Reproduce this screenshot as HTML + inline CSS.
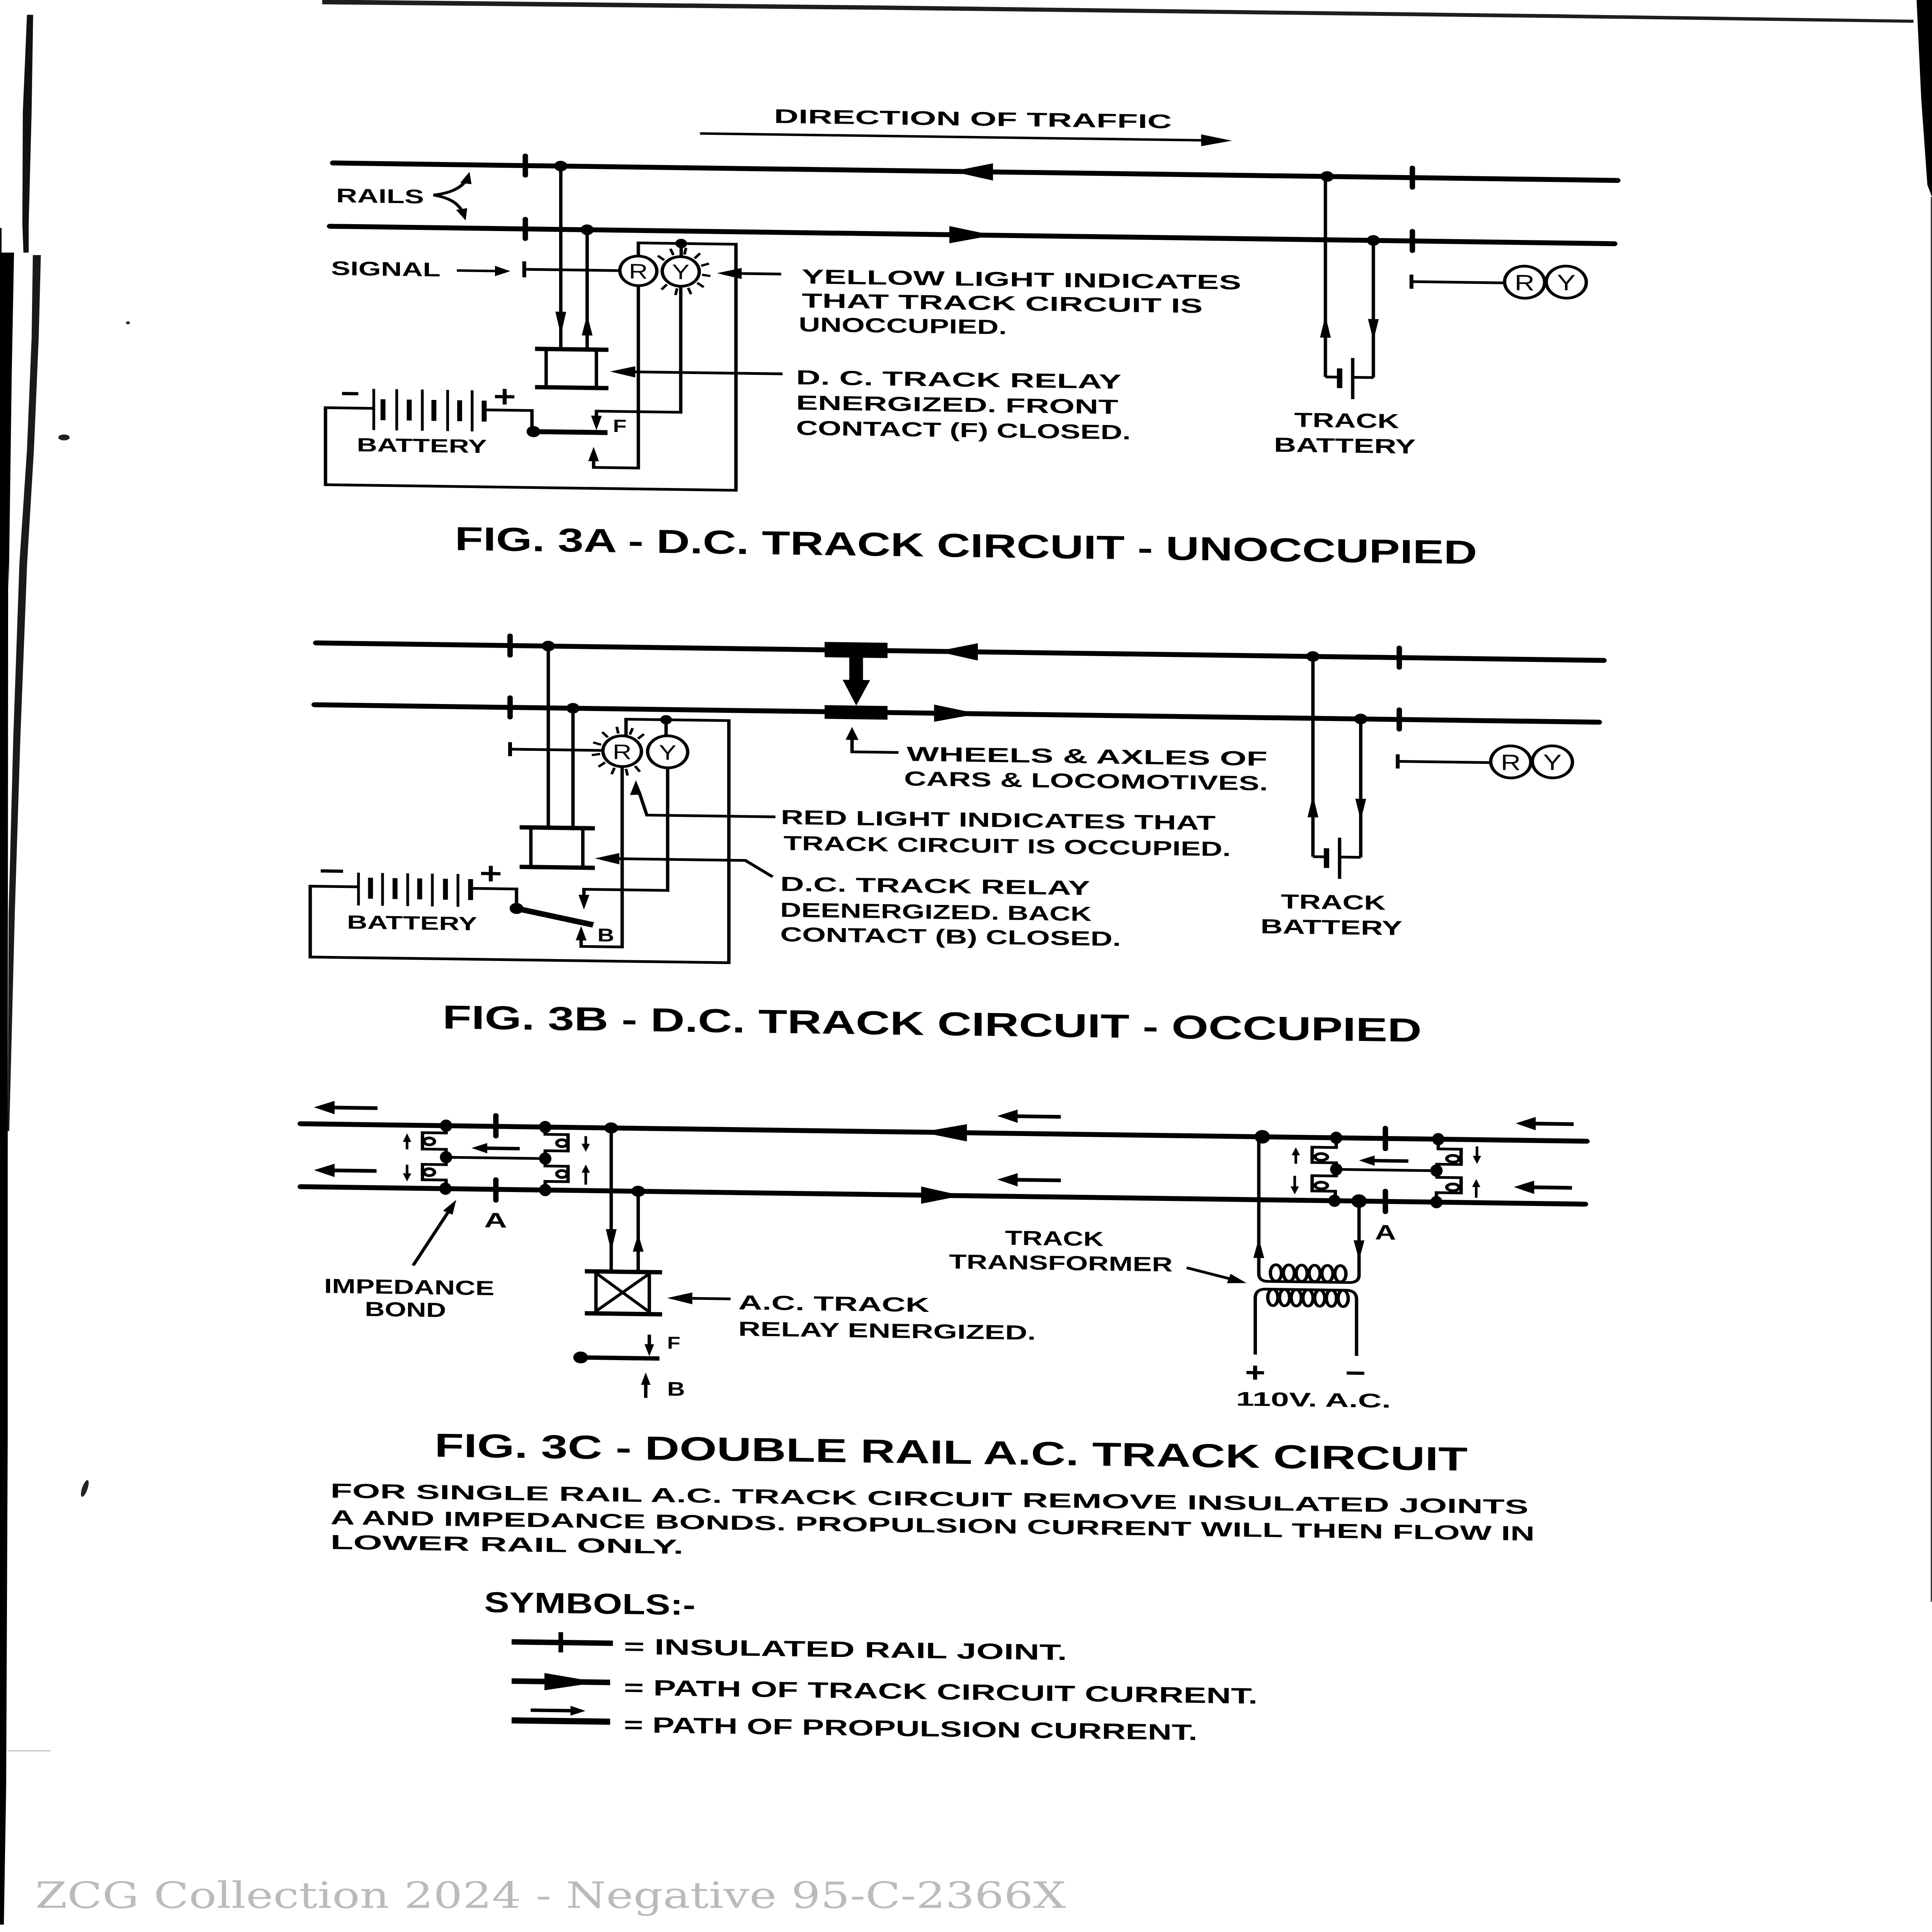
<!DOCTYPE html>
<html>
<head>
<meta charset="utf-8">
<style>
html,body{margin:0;padding:0;background:#fff;overflow:hidden;width:100%;height:100%;}
svg{position:fixed;left:0;top:0;width:100vw;height:100vh;display:block;}
.w{stroke:#000;stroke-width:2.2;fill:none;stroke-linejoin:miter;}
.r{stroke:#000;stroke-width:4;fill:none;stroke-linecap:round;}
.j{stroke:#000;stroke-width:3.5;fill:none;stroke-linecap:round;}
.b{stroke:#000;stroke-width:3.5;fill:none;}
.f{fill:#000;stroke:none;}
.t{font-family:"Liberation Sans",sans-serif;font-weight:bold;fill:#000;}
.n{font-family:"Liberation Sans",sans-serif;font-weight:normal;fill:#000;}
.c{stroke:#000;stroke-width:2.2;fill:#fff;}
</style>
</head>
<body>
<svg xmlns="http://www.w3.org/2000/svg" viewBox="0 0 1253 1568" preserveAspectRatio="none">
<rect x="0" y="0" width="1253" height="1568" fill="#fff"/>

<!-- page edge artifacts -->
<polygon points="17.5,12 21.5,12 20.5,91 18.6,182 18.6,205 15.2,205 14.5,182 14.8,91" fill="#111"/>
<polygon points="0,205 9.1,205 7.6,304 5.7,477 5.3,457 5,953 5,1166 4,1450 2.5,1562 0,1562" fill="#000"/>
<polygon points="0,185 1,185 1,205 0,205" fill="#000"/>
<polygon points="21.3,207 26.5,207 25.1,274 22,365 17.6,457 13.2,599 9.6,741 6,918 5,918 5.6,741 8.6,599 12.6,457 17.5,365 20.5,274" fill="#1a1a1a"/>
<polygon points="209,0 232,0 575,4.5 1005,11.5 1241,16 1241,18.5 1005,14.5 575,8 209,3.5" fill="#1e1e1e"/>
<polygon points="1243,0 1253,0 1253,160 1250,150 1246,80" fill="#000"/>
<rect x="1252.2" y="160" width="0.8" height="1140" fill="#333"/>
<line x1="5" y1="1421" x2="33" y2="1421" stroke="#888" stroke-width="0.5"/>
<ellipse cx="41.5" cy="355" rx="3.7" ry="2.4" fill="#222"/>
<ellipse cx="55" cy="1208" rx="1.8" ry="7" transform="rotate(15 55 1208)" fill="#222"/>
<circle cx="83" cy="262" r="1.3" fill="#333"/>

<g transform="translate(600 0) skewY(0.974) translate(-600 0)">

<!-- ===================== FIG 3A ===================== -->
<text class="t" x="502" y="101.4" font-size="16" textLength="258" lengthAdjust="spacingAndGlyphs">DIRECTION OF TRAFFIC</text>
<line x1="454" y1="110.8" x2="781" y2="110.8" stroke="#000" stroke-width="2"/>
<polygon class="f" points="799,110.8 779,106 779,115.6"/>

<line class="r" x1="216" y1="138.8" x2="1049" y2="138.8"/>
<line class="r" x1="214" y1="190.2" x2="1047" y2="190.2"/>
<line class="j" x1="340.7" y1="130.8" x2="340.7" y2="146.8"/>
<line class="j" x1="340.7" y1="182.2" x2="340.7" y2="198.2"/>
<line class="j" x1="916" y1="130.8" x2="916" y2="146.8"/>
<line class="j" x1="916" y1="182.2" x2="916" y2="198.2"/>
<polygon class="f" points="617.5,138.8 644,131.8 644,145.8"/>
<polygon class="f" points="644,190.2 615.7,183.2 615.7,197.2"/>
<circle class="f" cx="363.7" cy="138.8" r="4.3"/>
<circle class="f" cx="380.8" cy="190.2" r="4.3"/>
<circle class="f" cx="860.7" cy="138.8" r="4.3"/>
<circle class="f" cx="890.7" cy="190.2" r="4.3"/>

<text class="t" x="218" y="170.6" font-size="16" textLength="57" lengthAdjust="spacingAndGlyphs">RAILS</text>
<path class="w" d="M281,163.7 C293,162 299,157 302,152"/>
<polygon class="f" points="304.5,144.5 298.5,153.5 305.8,154.5"/>
<path class="w" d="M281,163.7 C293,166 297,171 299.5,176"/>
<polygon class="f" points="302,184 295.8,175.5 303,174"/>

<text class="t" x="214.7" y="229.7" font-size="16" textLength="71" lengthAdjust="spacingAndGlyphs">SIGNAL</text>
<line x1="296.3" y1="224.7" x2="322" y2="224.7" stroke="#000" stroke-width="2"/>
<polygon class="f" points="331,224.7 321,220.5 321,228.9"/>

<!-- relay wires -->
<line class="w" x1="363.7" y1="138.8" x2="363.7" y2="287.4"/>
<polygon class="f" points="360.2,257 367.2,257 363.7,276"/>
<line class="w" x1="380.8" y1="190.2" x2="380.8" y2="287.4"/>
<polygon class="f" points="377.3,276 384.3,276 380.8,259"/>
<!-- relay -->
<line class="b" x1="347" y1="287.4" x2="394.6" y2="287.4"/>
<line class="b" x1="347" y1="318.5" x2="394.6" y2="318.5"/>
<line class="w" x1="354.2" y1="289" x2="354.2" y2="317"/>
<line class="w" x1="386.8" y1="289" x2="386.8" y2="317"/>
<line class="w" x1="411" y1="305" x2="507.5" y2="305"/>
<polygon class="f" points="395.7,305 412,300.4 412,309.6"/>

<!-- signal -->
<line class="w" x1="340" y1="223" x2="402" y2="223"/>
<line x1="340" y1="216.5" x2="340" y2="229.5" stroke="#000" stroke-width="2.5"/>
<polyline class="w" points="414,211 414,200.3 477.3,200.3 477.3,400 211.1,400 211.1,337.5 242.4,337.5"/>
<line class="w" x1="441.8" y1="200.3" x2="441.8" y2="211"/>
<circle class="f" cx="441.8" cy="200.3" r="3.8"/>
<g stroke="#000" stroke-width="1.8">
<line x1="430.8" y1="214" x2="426.6" y2="210.5"/>
<line x1="436.7" y1="209.8" x2="434.8" y2="204.7"/>
<line x1="443.9" y1="209.2" x2="444.9" y2="203.8"/>
<line x1="450.5" y1="212.3" x2="454" y2="208.1"/>
<line x1="454.7" y1="218.2" x2="459.8" y2="216.3"/>
<line x1="455.3" y1="225.4" x2="460.7" y2="226.4"/>
<line x1="452.2" y1="232" x2="456.4" y2="235.5"/>
<line x1="446.3" y1="236.2" x2="448.2" y2="241.3"/>
<line x1="439.1" y1="236.8" x2="438.1" y2="242.2"/>
<line x1="432.5" y1="233.7" x2="429" y2="237.9"/>
</g>
<circle class="c" cx="414" cy="223" r="12"/>
<circle class="c" cx="441.5" cy="223" r="12"/>
<text class="n" x="414" y="229.2" font-size="17" text-anchor="middle">R</text>
<text class="n" x="441.5" y="229.2" font-size="17" text-anchor="middle">Y</text>
<line class="w" x1="481" y1="224" x2="506.6" y2="224"/>
<polygon class="f" points="465,224 481,219.5 481,228.5"/>

<!-- lamp returns / contacts -->
<polyline class="w" points="441.5,235 441.5,337.3 386.8,337.3 386.8,342"/>
<polygon class="f" points="383.3,341 390.3,341 386.8,352.8"/>
<polyline class="w" points="414,235 414,383 385,383 385,377"/>
<polygon class="f" points="381.5,378 388.5,378 385,366.3"/>
<circle class="f" cx="346" cy="354.6" r="4.5"/>
<line x1="346" y1="354.6" x2="394" y2="354.6" stroke="#000" stroke-width="4"/>
<polyline class="w" points="314,337.5 345,337.5 345,354.6"/>
<text class="t" x="397.5" y="354" font-size="14.5">F</text>

<!-- battery -->
<g stroke="#000">
<line x1="242.4" y1="321.7" x2="242.4" y2="355.1" stroke-width="1.8"/>
<line x1="248.4" y1="330" x2="248.4" y2="347" stroke-width="3.2"/>
<line x1="257.3" y1="321.7" x2="257.3" y2="355.1" stroke-width="1.8"/>
<line x1="265.4" y1="330" x2="265.4" y2="347" stroke-width="3.2"/>
<line x1="273.9" y1="321.7" x2="273.9" y2="355.1" stroke-width="1.8"/>
<line x1="281.4" y1="330" x2="281.4" y2="347" stroke-width="3.2"/>
<line x1="290.3" y1="321.7" x2="290.3" y2="355.1" stroke-width="1.8"/>
<line x1="298.1" y1="330" x2="298.1" y2="347" stroke-width="3.2"/>
<line x1="306.2" y1="321.7" x2="306.2" y2="355.1" stroke-width="1.8"/>
<line x1="314" y1="330" x2="314" y2="347" stroke-width="3.2"/>
<line x1="221.8" y1="325.8" x2="232.4" y2="325.8" stroke-width="2.6"/>
<line x1="321" y1="326.6" x2="333.6" y2="326.6" stroke-width="2.6"/>
<line x1="327.3" y1="320.3" x2="327.3" y2="332.9" stroke-width="2.6"/>
</g>
<text class="t" x="231.4" y="372.5" font-size="15.5" textLength="84.4" lengthAdjust="spacingAndGlyphs">BATTERY</text>

<!-- labels -->
<text class="t" x="520" y="231.4" font-size="16.5" textLength="285" lengthAdjust="spacingAndGlyphs">YELLOW LIGHT INDICATES</text>
<text class="t" x="520" y="250.9" font-size="16.5" textLength="260" lengthAdjust="spacingAndGlyphs">THAT TRACK CIRCUIT IS</text>
<text class="t" x="518" y="270.3" font-size="16.5" textLength="135" lengthAdjust="spacingAndGlyphs">UNOCCUPIED.</text>
<text class="t" x="516.3" y="313.3" font-size="16.5" textLength="211" lengthAdjust="spacingAndGlyphs">D. C. TRACK RELAY</text>
<text class="t" x="516.3" y="333.8" font-size="16.5" textLength="209" lengthAdjust="spacingAndGlyphs">ENERGIZED. FRONT</text>
<text class="t" x="516.3" y="354.3" font-size="16.5" textLength="217" lengthAdjust="spacingAndGlyphs">CONTACT (F) CLOSED.</text>

<!-- right part 3A -->
<line class="w" x1="859.6" y1="138.8" x2="859.6" y2="301.5"/>
<polygon class="f" points="856.1,269.6 863.1,269.6 859.6,251.6"/>
<line class="w" x1="890.7" y1="190.2" x2="890.7" y2="301.5"/>
<polygon class="f" points="887.2,254 894.2,254 890.7,271.5"/>
<line class="w" x1="859.6" y1="301.5" x2="868.8" y2="301.5"/>
<line class="w" x1="877.3" y1="301.5" x2="890.7" y2="301.5"/>
<line x1="868.8" y1="294.4" x2="868.8" y2="310.4" stroke="#000" stroke-width="3.5"/>
<line x1="877.3" y1="285.8" x2="877.3" y2="319.2" stroke="#000" stroke-width="2.2"/>
<line x1="915.4" y1="217.5" x2="915.4" y2="229" stroke="#000" stroke-width="2.5"/>
<line class="w" x1="915.4" y1="223.2" x2="975.8" y2="223.2"/>
<circle class="c" cx="988.8" cy="222.4" r="13"/>
<circle class="c" cx="1015.8" cy="221.9" r="13"/>
<text class="n" x="988.8" y="229" font-size="18" text-anchor="middle">R</text>
<text class="n" x="1015.8" y="228.5" font-size="18" text-anchor="middle">Y</text>
<text class="t" x="839.4" y="342.3" font-size="16.5" textLength="68" lengthAdjust="spacingAndGlyphs">TRACK</text>
<text class="t" x="826.2" y="362.7" font-size="16.5" textLength="92" lengthAdjust="spacingAndGlyphs">BATTERY</text>

<text class="t" x="295" y="451.6" font-size="27" textLength="663" lengthAdjust="spacingAndGlyphs">FIG. 3A - D.C. TRACK CIRCUIT - UNOCCUPIED</text>

<!-- ===================== FIG 3B ===================== -->
<line class="r" x1="205" y1="528.5" x2="1040" y2="528.5"/>
<line class="r" x1="204" y1="578.7" x2="1037" y2="578.7"/>
<line class="j" x1="330.8" y1="520.5" x2="330.8" y2="536.5"/>
<line class="j" x1="330.8" y1="570.7" x2="330.8" y2="586.7"/>
<line class="j" x1="907.5" y1="520.5" x2="907.5" y2="536.5"/>
<line class="j" x1="907.5" y1="570.7" x2="907.5" y2="586.7"/>
<polygon class="f" points="607.6,528.5 634.2,521.5 634.2,535.5"/>
<polygon class="f" points="634.2,578.7 605.8,571.7 605.8,585.7"/>
<circle class="f" cx="355.6" cy="528.5" r="4.3"/>
<circle class="f" cx="371.6" cy="578.7" r="4.3"/>
<circle class="f" cx="851.5" cy="528.5" r="4.3"/>
<circle class="f" cx="882.5" cy="578.7" r="4.3"/>

<!-- wheels & axle -->
<rect class="f" x="534.8" y="522.1" width="40.8" height="12.4"/>
<rect class="f" x="534.8" y="573.4" width="40.8" height="11.1"/>
<rect class="f" x="550.8" y="534.5" width="8.9" height="18.5"/>
<polygon class="f" points="546.5,552.6 564.3,552.6 555.3,573.4"/>
<polyline class="w" points="552.6,600 552.6,611 582.7,611"/>
<polygon class="f" points="548.4,601.3 556.8,601.3 552.6,590.8"/>
<text class="t" x="588" y="617.7" font-size="16.5" textLength="234" lengthAdjust="spacingAndGlyphs">WHEELS &amp; AXLES OF</text>
<text class="t" x="586.3" y="637.7" font-size="16.5" textLength="236" lengthAdjust="spacingAndGlyphs">CARS &amp; LOCOMOTIVES.</text>

<!-- relay wires -->
<line class="w" x1="355.6" y1="528.5" x2="355.6" y2="675.9"/>
<line class="w" x1="371.6" y1="578.7" x2="371.6" y2="675.9"/>
<line class="b" x1="337" y1="675.9" x2="385.8" y2="675.9"/>
<line class="b" x1="337" y1="708" x2="385.8" y2="708"/>
<line class="w" x1="344.3" y1="677.5" x2="344.3" y2="706.3"/>
<line class="w" x1="378" y1="677.5" x2="378" y2="706.3"/>

<!-- signal -->
<line x1="330.8" y1="606.9" x2="330.8" y2="618.3" stroke="#000" stroke-width="2.5"/>
<line class="w" x1="330.8" y1="612.6" x2="391" y2="612.6"/>
<polyline class="w" points="406,600.5 406,587 472.7,587 472.7,783.5 201.2,783.5 201.2,726 232.5,726"/>
<line class="w" x1="432" y1="587" x2="432" y2="600"/>
<circle class="f" cx="432" cy="587" r="3.8"/>
<g stroke="#000" stroke-width="1.8">
<line x1="389.9" y1="608" x2="384.7" y2="606.2"/>
<line x1="394.2" y1="601.9" x2="390.6" y2="597.7"/>
<line x1="401" y1="598.7" x2="400" y2="593.3"/>
<line x1="408.5" y1="599.4" x2="410.3" y2="594.2"/>
<line x1="413.8" y1="602.7" x2="417.6" y2="598.9"/>
<line x1="389.2" y1="615.5" x2="383.8" y2="616.5"/>
<line x1="392.4" y1="622.3" x2="388.2" y2="625.9"/>
<line x1="398.5" y1="626.6" x2="396.7" y2="631.8"/>
<line x1="406" y1="627.3" x2="407" y2="632.7"/>
<line x1="411.8" y1="624.9" x2="415" y2="629.4"/>
</g>
<circle class="c" cx="403.5" cy="613" r="12.5"/>
<circle class="c" cx="433" cy="613" r="13"/>
<text class="n" x="403.5" y="619.4" font-size="17" text-anchor="middle">R</text>
<text class="n" x="433" y="619.4" font-size="17" text-anchor="middle">Y</text>

<!-- lamp returns / contacts -->
<polyline class="w" points="433,626 433,725.5 378.7,725.5 378.7,731"/>
<polygon class="f" points="375.2,730 382.2,730 378.7,742"/>
<polyline class="w" points="403.5,625.5 403.5,771.9 376.9,771.9 376.9,766"/>
<polygon class="f" points="373.4,767 380.4,767 376.9,755.4"/>
<circle class="f" cx="335" cy="741.8" r="4.5"/>
<line x1="335" y1="741.8" x2="384.7" y2="754.3" stroke="#000" stroke-width="4.5"/>
<polyline class="w" points="305.2,726 335,726 335,741.8"/>
<text class="t" x="387.5" y="767.6" font-size="15">B</text>

<!-- battery -->
<g stroke="#000">
<line x1="232.5" y1="714.5" x2="232.5" y2="741.1" stroke-width="1.8"/>
<line x1="240.3" y1="718.5" x2="240.3" y2="735.5" stroke-width="3.2"/>
<line x1="248.1" y1="714.5" x2="248.1" y2="741.1" stroke-width="1.8"/>
<line x1="256.2" y1="718.5" x2="256.2" y2="735.5" stroke-width="3.2"/>
<line x1="264.4" y1="714.5" x2="264.4" y2="741.1" stroke-width="1.8"/>
<line x1="272.2" y1="718.5" x2="272.2" y2="735.5" stroke-width="3.2"/>
<line x1="280.4" y1="714.5" x2="280.4" y2="741.1" stroke-width="1.8"/>
<line x1="288.9" y1="718.5" x2="288.9" y2="735.5" stroke-width="3.2"/>
<line x1="297" y1="714.5" x2="297" y2="741.1" stroke-width="1.8"/>
<line x1="305.2" y1="718.5" x2="305.2" y2="735.5" stroke-width="3.2"/>
<line x1="208" y1="713.5" x2="222.5" y2="713.5" stroke-width="2.6"/>
<line x1="312" y1="713.8" x2="324.6" y2="713.8" stroke-width="2.6"/>
<line x1="318.3" y1="707.5" x2="318.3" y2="720.1" stroke-width="2.6"/>
</g>
<text class="t" x="225" y="760" font-size="15.5" textLength="84.5" lengthAdjust="spacingAndGlyphs">BATTERY</text>

<!-- indicator arrows -->
<polyline class="w" points="502.9,664.6 419.5,664.6 414.8,647"/>
<polygon class="f" points="412.4,636.4 408.6,648.5 416.3,648"/>
<polyline class="w" points="501.1,713.3 483.4,700.3 401,700.3"/>
<polygon class="f" points="385.8,700.3 401.7,695.7 401.7,704.9"/>

<text class="t" x="506.4" y="670.4" font-size="16.5" textLength="282" lengthAdjust="spacingAndGlyphs">RED LIGHT INDICATES THAT</text>
<text class="t" x="508.2" y="691.4" font-size="16.5" textLength="290" lengthAdjust="spacingAndGlyphs">TRACK CIRCUIT IS OCCUPIED.</text>
<text class="t" x="506" y="724.6" font-size="16.5" textLength="201" lengthAdjust="spacingAndGlyphs">D.C. TRACK RELAY</text>
<text class="t" x="506" y="745.6" font-size="16.5" textLength="202" lengthAdjust="spacingAndGlyphs">DEENERGIZED. BACK</text>
<text class="t" x="506" y="765.5" font-size="16.5" textLength="221" lengthAdjust="spacingAndGlyphs">CONTACT (B) CLOSED.</text>

<!-- right part 3B -->
<line class="w" x1="851.5" y1="528.5" x2="851.5" y2="691"/>
<polygon class="f" points="848,659.1 855,659.1 851.5,641.1"/>
<line class="w" x1="882.5" y1="578.7" x2="882.5" y2="691"/>
<polygon class="f" points="879,643.5 886,643.5 882.5,661"/>
<line class="w" x1="851.5" y1="691" x2="860.3" y2="691"/>
<line class="w" x1="868.8" y1="691" x2="882.5" y2="691"/>
<line x1="860.3" y1="684" x2="860.3" y2="700" stroke="#000" stroke-width="3.5"/>
<line x1="868.8" y1="675.3" x2="868.8" y2="708.7" stroke="#000" stroke-width="2.2"/>
<line x1="906.5" y1="607" x2="906.5" y2="618.5" stroke="#000" stroke-width="2.5"/>
<line class="w" x1="906.5" y1="612.7" x2="966.8" y2="612.7"/>
<circle class="c" cx="979.8" cy="611.9" r="13"/>
<circle class="c" cx="1006.8" cy="611.4" r="13"/>
<text class="n" x="979.8" y="618.5" font-size="18" text-anchor="middle">R</text>
<text class="n" x="1006.8" y="618" font-size="18" text-anchor="middle">Y</text>
<text class="t" x="830.7" y="733.3" font-size="16.5" textLength="68" lengthAdjust="spacingAndGlyphs">TRACK</text>
<text class="t" x="817.5" y="753.7" font-size="16.5" textLength="92" lengthAdjust="spacingAndGlyphs">BATTERY</text>

<text class="t" x="287" y="840" font-size="27" textLength="635" lengthAdjust="spacingAndGlyphs">FIG. 3B - D.C. TRACK CIRCUIT - OCCUPIED</text>

<!-- ===================== FIG 3C ===================== -->
<line class="r" x1="195" y1="918.9" x2="1029" y2="918.9"/>
<line class="r" x1="195" y1="970" x2="1028" y2="970"/>
<polygon class="f" points="597.4,918.9 627.1,911.9 627.1,925.9"/>
<polygon class="f" points="623.8,970 597.4,963 597.4,977"/>

<!-- propulsion arrows -->
<g stroke="#000" stroke-width="3">
<line x1="215" y1="905.4" x2="244.8" y2="905.4"/>
<line x1="215" y1="956.4" x2="244.2" y2="956.4"/>
<line x1="658" y1="904.9" x2="688" y2="904.9"/>
<line x1="658" y1="956.5" x2="688" y2="956.5"/>
<line x1="994" y1="905.2" x2="1020.6" y2="905.2"/>
<line x1="994" y1="956.9" x2="1019.5" y2="956.9"/>
</g>
<polygon class="f" points="203.6,905.4 217,900 217,910.8"/>
<polygon class="f" points="203.6,956.4 217,951 217,961.8"/>
<polygon class="f" points="646.8,904.9 660,899.5 660,910.3"/>
<polygon class="f" points="646.8,956.5 660,951.1 660,961.9"/>
<polygon class="f" points="983,905.2 996,899.8 996,910.6"/>
<polygon class="f" points="981.8,956.9 995,951.5 995,962.3"/>

<!-- left impedance bonds -->
<line class="j" x1="321.6" y1="909.9" x2="321.6" y2="926.9"/>
<line class="j" x1="321.6" y1="962" x2="321.6" y2="979"/>
<polyline class="w" points="289.3,918.9 289.3,924.8 274,924.8 274,938.1 289.3,938.1 289.3,944.5"/>
<polyline class="w" points="289.3,944.5 289.3,950.5 274,950.5 274,963 289.3,963 289.3,970"/>
<polyline class="w" points="353.6,918.9 353.6,924.8 368.4,924.8 368.4,938.1 353.6,938.1 353.6,944.5"/>
<polyline class="w" points="353.6,944.5 353.6,950.5 368.4,950.5 368.4,963 353.6,963 353.6,970"/>
<line class="w" x1="289.3" y1="944.5" x2="353.6" y2="944.5"/>
<g class="w" stroke-width="1.8">
<ellipse cx="278.4" cy="931.8" rx="3.4" ry="2.8"/>
<ellipse cx="278.4" cy="956.8" rx="3.4" ry="2.8"/>
<ellipse cx="364.5" cy="931.8" rx="3.4" ry="2.8"/>
<ellipse cx="364.5" cy="956.8" rx="3.4" ry="2.8"/>
</g>
<g class="f">
<ellipse cx="289.3" cy="918.9" rx="4" ry="5"/>
<ellipse cx="289.3" cy="944.5" rx="4" ry="5"/>
<ellipse cx="288.9" cy="970" rx="4" ry="5"/>
<ellipse cx="353.6" cy="918.9" rx="4" ry="5"/>
<ellipse cx="353.6" cy="944.5" rx="4" ry="5"/>
<ellipse cx="353.6" cy="970" rx="4" ry="5"/>
</g>
<g stroke="#000" stroke-width="1.7">
<line x1="264" y1="931" x2="264" y2="938.5"/>
<line x1="264" y1="951" x2="264" y2="959"/>
<line x1="379.9" y1="925.8" x2="379.9" y2="933"/>
<line x1="379.9" y1="954" x2="379.9" y2="965.2"/>
</g>
<polygon class="f" points="261.3,932.5 266.7,932.5 264,925.5"/>
<polygon class="f" points="261.3,958 266.7,958 264,964.5"/>
<polygon class="f" points="377.2,932 382.6,932 379.9,938.5"/>
<polygon class="f" points="377.2,955.5 382.6,955.5 379.9,948.8"/>
<line x1="315" y1="936.7" x2="337.1" y2="936.7" stroke="#000" stroke-width="2.8"/>
<polygon class="f" points="305.8,936.7 316,932.5 316,940.9"/>
<text class="t" x="314" y="1000.9" font-size="17" textLength="14.8" lengthAdjust="spacingAndGlyphs">A</text>
<line class="w" x1="267.9" y1="1032.7" x2="290.4" y2="989.5"/>
<polygon class="f" points="295.9,978.9 293.5,991.1 287.3,987.9"/>
<text class="t" x="210.2" y="1055.9" font-size="16.5" textLength="110.4" lengthAdjust="spacingAndGlyphs">IMPEDANCE</text>
<text class="t" x="236.6" y="1074.2" font-size="16.5" textLength="52.7" lengthAdjust="spacingAndGlyphs">BOND</text>

<!-- AC relay -->
<circle class="f" cx="396.4" cy="918.9" r="4.5"/>
<circle class="f" cx="413.9" cy="970" r="4.5"/>
<line class="w" x1="396.4" y1="918.9" x2="396.4" y2="1035.5"/>
<polygon class="f" points="392.9,1001 399.9,1001 396.4,1019"/>
<line class="w" x1="413.9" y1="970" x2="413.9" y2="1035.5"/>
<polygon class="f" points="410.4,1019 417.4,1019 413.9,1004.6"/>
<line class="b" x1="379.3" y1="1035.5" x2="429.4" y2="1035.5"/>
<line class="b" x1="379.3" y1="1069.6" x2="429.4" y2="1069.6"/>
<line class="w" x1="386.5" y1="1036.8" x2="386.5" y2="1067.8"/>
<line class="w" x1="421.1" y1="1036.8" x2="421.1" y2="1067.8"/>
<line class="w" x1="386.5" y1="1036.8" x2="421.1" y2="1067.8"/>
<line class="w" x1="421.1" y1="1036.8" x2="386.5" y2="1067.8"/>
<line class="w" x1="449" y1="1056.3" x2="473.8" y2="1056.3"/>
<polygon class="f" points="432.7,1056.3 449,1051.5 449,1061.1"/>
<text class="t" x="478.8" y="1064.7" font-size="16.5" textLength="124" lengthAdjust="spacingAndGlyphs">A.C. TRACK</text>
<text class="t" x="478.8" y="1086.1" font-size="16.5" textLength="193" lengthAdjust="spacingAndGlyphs">RELAY ENERGIZED.</text>
<circle class="f" cx="376.6" cy="1105.5" r="4.8"/>
<line x1="376.6" y1="1105.5" x2="427.7" y2="1105.5" stroke="#000" stroke-width="3.5"/>
<line class="w" x1="421.1" y1="1086.2" x2="421.1" y2="1095"/>
<polygon class="f" points="418,1094 424.2,1094 421.1,1103.7"/>
<line class="w" x1="418.8" y1="1137.6" x2="418.8" y2="1126"/>
<polygon class="f" points="415.7,1127 421.9,1127 418.8,1117"/>
<text class="t" x="432.7" y="1097.4" font-size="14">F</text>
<text class="t" x="432.7" y="1135.5" font-size="16">B</text>

<text class="t" x="651.8" y="1009.3" font-size="16.5" textLength="64" lengthAdjust="spacingAndGlyphs">TRACK</text>
<text class="t" x="615.5" y="1029.2" font-size="16.5" textLength="145" lengthAdjust="spacingAndGlyphs">TRANSFORMER</text>
<line class="w" x1="769.6" y1="1026" x2="797" y2="1034.3"/>
<polygon class="f" points="808.4,1037.75 795.7,1038.1 798.1,1030.5"/>

<!-- right impedance bonds -->
<line class="j" x1="898.5" y1="910.4" x2="898.5" y2="927.4"/>
<line class="j" x1="898.5" y1="961.5" x2="898.5" y2="978.5"/>
<polyline class="w" points="866.6,918.9 866.6,926.8 851,926.8 851,939.2 866.6,939.2 866.6,944.5"/>
<polyline class="w" points="866.6,944.5 866.6,949.9 851,949.9 851,962.3 866,962.3 866,970"/>
<polyline class="w" points="932.8,918.9 932.8,926.8 947.6,926.8 947.6,939.2 932,939.2 932,944.4"/>
<polyline class="w" points="932,944.4 932,949.9 947.6,949.9 947.6,962.3 931.6,962.3 931.6,970"/>
<line class="w" x1="866.6" y1="944.5" x2="931.6" y2="944.5"/>
<g class="w" stroke-width="1.8">
<ellipse cx="856.9" cy="934.6" rx="4" ry="2.7"/>
<ellipse cx="856.9" cy="957.8" rx="4" ry="2.7"/>
<ellipse cx="942.3" cy="934.6" rx="4" ry="2.7"/>
<ellipse cx="942.3" cy="957.8" rx="4" ry="2.7"/>
</g>
<g class="f">
<ellipse cx="818.7" cy="918.9" rx="5" ry="5.5"/>
<ellipse cx="866.6" cy="918.9" rx="4" ry="5"/>
<ellipse cx="932.8" cy="918.9" rx="4" ry="5"/>
<ellipse cx="865.5" cy="970" rx="4" ry="5"/>
<ellipse cx="881.4" cy="970" rx="5" ry="5.5"/>
<ellipse cx="931.6" cy="970" rx="4" ry="5"/>
<ellipse cx="866.6" cy="944.5" rx="4" ry="5"/>
<ellipse cx="931.6" cy="944.4" rx="4" ry="5"/>
</g>
<g stroke="#000" stroke-width="1.7">
<line x1="840.4" y1="932" x2="840.4" y2="940.4"/>
<line x1="839.7" y1="950.2" x2="839.7" y2="959.5"/>
<line x1="957.9" y1="924.3" x2="957.9" y2="932.5"/>
<line x1="957.4" y1="956" x2="957.4" y2="966"/>
</g>
<polygon class="f" points="837.7,933.5 843.1,933.5 840.4,927.1"/>
<polygon class="f" points="837,958.8 842.4,958.8 839.7,965.3"/>
<polygon class="f" points="955.2,932 960.6,932 957.9,938.5"/>
<polygon class="f" points="954.7,957.3 960.1,957.3 957.4,950.9"/>
<line x1="891" y1="937" x2="913.4" y2="937" stroke="#000" stroke-width="2.8"/>
<polygon class="f" points="881.4,937 891.5,932.8 891.5,941.2"/>
<text class="t" x="891.7" y="1000.9" font-size="17" textLength="13.7" lengthAdjust="spacingAndGlyphs">A</text>

<!-- transformer -->
<path class="w" d="M816.4,918.9 V1030 Q816.4,1036.2 822.5,1036.2 H875 Q881.4,1036.2 881.4,1030 V970"/>
<polygon class="f" points="812.9,1017.3 819.9,1017.3 816.4,1001.3"/>
<polygon class="f" points="877.9,1001.9 884.9,1001.9 881.4,1017.9"/>
<g class="w" stroke-width="2">
<ellipse cx="827.5" cy="1029.2" rx="3.6" ry="6.6"/>
<ellipse cx="835.9" cy="1029.2" rx="3.6" ry="6.6"/>
<ellipse cx="844.2" cy="1029.2" rx="3.6" ry="6.6"/>
<ellipse cx="852.6" cy="1029.2" rx="3.6" ry="6.6"/>
<ellipse cx="860.9" cy="1029.2" rx="3.6" ry="6.6"/>
<ellipse cx="869.3" cy="1029.2" rx="3.6" ry="6.6"/>
</g>
<path class="w" d="M814.1,1095.7 V1050 Q814.1,1042.5 821,1042.5 H873 Q879.8,1042.5 879.8,1050 V1095.7"/>
<g class="w" stroke-width="2">
<ellipse cx="825.5" cy="1049.2" rx="3.3" ry="6.6"/>
<ellipse cx="833.1" cy="1049.2" rx="3.3" ry="6.6"/>
<ellipse cx="840.7" cy="1049.2" rx="3.3" ry="6.6"/>
<ellipse cx="848.3" cy="1049.2" rx="3.3" ry="6.6"/>
<ellipse cx="855.9" cy="1049.2" rx="3.3" ry="6.6"/>
<ellipse cx="863.5" cy="1049.2" rx="3.3" ry="6.6"/>
<ellipse cx="871.1" cy="1049.2" rx="3.3" ry="6.6"/>
</g>
<g stroke="#000" stroke-width="2.6">
<line x1="808.4" y1="1110.4" x2="819.8" y2="1110.4"/>
<line x1="814" y1="1104.7" x2="814" y2="1116.1"/>
<line x1="873.4" y1="1109.7" x2="884.8" y2="1109.7"/>
</g>
<text class="t" x="801.6" y="1137.3" font-size="16" textLength="100.4" lengthAdjust="spacingAndGlyphs">110V. A.C.</text>

<text class="t" x="281.8" y="1187.6" font-size="27" textLength="670" lengthAdjust="spacingAndGlyphs">FIG. 3C - DOUBLE RAIL A.C. TRACK CIRCUIT</text>

<text class="t" x="214.3" y="1222" font-size="16.5" textLength="777" lengthAdjust="spacingAndGlyphs">FOR SINGLE RAIL A.C. TRACK CIRCUIT REMOVE INSULATED JOINTS</text>
<text class="t" x="214.3" y="1243.6" font-size="16.5" textLength="781" lengthAdjust="spacingAndGlyphs">A AND IMPEDANCE BONDS. PROPULSION CURRENT WILL THEN FLOW IN</text>
<text class="t" x="214.3" y="1263.7" font-size="16.5" textLength="229" lengthAdjust="spacingAndGlyphs">LOWER RAIL ONLY.</text>

<!-- symbols -->
<text class="t" x="314" y="1313.2" font-size="23.5" textLength="137" lengthAdjust="spacingAndGlyphs">SYMBOLS:-</text>
<line x1="331.8" y1="1337.1" x2="397.5" y2="1337.1" stroke="#000" stroke-width="4.4"/>
<line x1="363.7" y1="1328.7" x2="363.7" y2="1345.1" stroke="#000" stroke-width="3"/>
<text class="t" x="404.6" y="1345.7" font-size="18" textLength="287.4" lengthAdjust="spacingAndGlyphs">= INSULATED RAIL JOINT.</text>
<line x1="331.8" y1="1368.9" x2="395.7" y2="1368.9" stroke="#000" stroke-width="4.5"/>
<polygon class="f" points="353.1,1362 353.1,1376 388,1368.9"/>
<text class="t" x="404.6" y="1379" font-size="18" textLength="411" lengthAdjust="spacingAndGlyphs">= PATH OF TRACK CIRCUIT CURRENT.</text>
<line x1="344.2" y1="1392.3" x2="371" y2="1392.3" stroke="#000" stroke-width="2.8"/>
<polygon class="f" points="379.7,1392.3 370,1388.3 370,1396.3"/>
<line x1="331.8" y1="1400.8" x2="395.7" y2="1400.8" stroke="#000" stroke-width="5"/>
<text class="t" x="404.6" y="1409.2" font-size="18" textLength="372" lengthAdjust="spacingAndGlyphs">= PATH OF PROPULSION CURRENT.</text>

</g>

<!-- watermark -->
<text x="22.8" y="1548.4" font-family="'DejaVu Serif','Liberation Serif',serif" font-size="29.5" fill="#bbbbbb" textLength="668.5" lengthAdjust="spacingAndGlyphs">ZCG Collection 2024 - Negative 95-C-2366X</text>
</svg>
</body>
</html>
